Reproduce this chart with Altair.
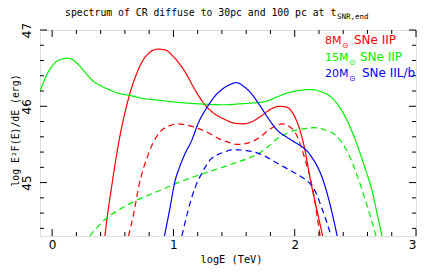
import altair as alt
import pandas as pd

# ---- data ----
red_solid_x = [0.435, 0.45, 0.49, 0.53, 0.57, 0.61, 0.645, 0.69, 0.74, 0.80, 0.87, 0.93, 1.00, 1.10, 1.18, 1.26, 1.34, 1.42, 1.50, 1.574, 1.65, 1.72, 1.80, 1.87, 1.93, 1.98, 2.03, 2.08, 2.13, 2.19, 2.23]
red_solid_y = [44.3, 44.5, 44.94, 45.35, 45.70, 45.98, 46.19, 46.40, 46.58, 46.70, 46.75, 46.74, 46.65, 46.44, 46.21, 46.02, 45.90, 45.83, 45.78, 45.77, 45.80, 45.87, 45.96, 46.00, 45.99, 45.92, 45.75, 45.46, 45.03, 44.59, 44.3]

red_dash_x = [0.63, 0.672, 0.713, 0.795, 0.877, 0.96, 1.04, 1.12, 1.205, 1.29, 1.37, 1.45, 1.53, 1.62, 1.70, 1.78, 1.85, 1.90, 1.96, 2.01, 2.08, 2.15, 2.20, 2.21]
red_dash_y = [44.3, 44.59, 44.94, 45.38, 45.64, 45.74, 45.77, 45.75, 45.71, 45.65, 45.58, 45.53, 45.50, 45.52, 45.58, 45.68, 45.75, 45.77, 45.73, 45.64, 45.33, 44.90, 44.40, 44.3]

green_solid_x = [-0.1, -0.025, 0.03, 0.08, 0.13, 0.18, 0.22, 0.28, 0.33, 0.40, 0.467, 0.55, 0.645, 0.76, 0.877, 1.05, 1.23, 1.42, 1.53, 1.62, 1.75, 1.85, 1.95, 2.05, 2.13, 2.22, 2.30, 2.37, 2.43, 2.49, 2.54, 2.59, 2.63, 2.68, 2.72]
green_solid_y = [46.2, 46.47, 46.58, 46.62, 46.63, 46.60, 46.54, 46.43, 46.34, 46.27, 46.22, 46.17, 46.14, 46.10, 46.08, 46.05, 46.03, 46.02, 46.03, 46.04, 46.06, 46.12, 46.18, 46.21, 46.22, 46.19, 46.12, 45.99, 45.82, 45.60, 45.38, 45.14, 44.94, 44.59, 44.3]

green_dash_x = [0.31, 0.453, 0.57, 0.686, 0.877, 1.04, 1.23, 1.42, 1.53, 1.62, 1.70, 1.78, 1.86, 1.94, 2.02, 2.10, 2.16, 2.25, 2.33, 2.39, 2.43, 2.48, 2.52, 2.56, 2.60, 2.64, 2.67]
green_dash_y = [44.3, 44.54, 44.66, 44.76, 44.89, 45.00, 45.11, 45.21, 45.27, 45.32, 45.38, 45.47, 45.58, 45.65, 45.69, 45.71, 45.72, 45.69, 45.63, 45.52, 45.42, 45.24, 45.07, 44.88, 44.68, 44.47, 44.3]

blue_solid_x = [0.926, 0.973, 1.01, 1.05, 1.096, 1.15, 1.205, 1.287, 1.34, 1.40, 1.46, 1.52, 1.58, 1.64, 1.70, 1.75, 1.80, 1.86, 1.93, 2.00, 2.06, 2.11, 2.15, 2.19, 2.23, 2.26, 2.31, 2.35]
blue_solid_y = [44.3, 44.68, 45.0, 45.2, 45.38, 45.55, 45.78, 46.01, 46.13, 46.22, 46.28, 46.31, 46.26, 46.17, 46.04, 45.92, 45.80, 45.68, 45.60, 45.53, 45.47, 45.40, 45.31, 45.20, 45.05, 44.90, 44.59, 44.3]

blue_dash_x = [1.07, 1.12, 1.18, 1.23, 1.31, 1.37, 1.42, 1.48, 1.53, 1.60, 1.67, 1.75, 1.86, 1.94, 2.02, 2.08, 2.13, 2.18, 2.22, 2.26, 2.30]
blue_dash_y = [44.3, 44.63, 44.94, 45.11, 45.31, 45.37, 45.40, 45.43, 45.43, 45.42, 45.40, 45.35, 45.25, 45.18, 45.11, 45.05, 44.98, 44.85, 44.68, 44.50, 44.3]

masses = ["8M", "15M", "20M"]
mass_colors = ["#ff0000", "#00ee00", "#0000ff"]
distances = ["30pc", "100pc"]
legend_mass = ["8M", "15M", "20M"]
legend_type = ["SNe IIP", "SNe IIP", "SNe IIL/b"]

x_major = [0, 1, 2, 3]
x_minor = [0.2, 0.4, 0.6, 0.8, 1.2, 1.4, 1.6, 1.8, 2.2, 2.4, 2.6, 2.8]
y_major = [45, 46, 47]
y_minor = [44.4, 44.6, 44.8, 45.2, 45.4, 45.6, 45.8, 46.2, 46.4, 46.6, 46.8]

# ---- build table ----
rows = []
series = [
    ("8M", "30pc", red_solid_x, red_solid_y),
    ("8M", "100pc", red_dash_x, red_dash_y),
    ("15M", "30pc", green_solid_x, green_solid_y),
    ("15M", "100pc", green_dash_x, green_dash_y),
    ("20M", "30pc", blue_solid_x, blue_solid_y),
    ("20M", "100pc", blue_dash_x, blue_dash_y),
]
for m, d, xs, ys in series:
    for xv, yv in zip(xs, ys):
        rows.append({"logE": xv, "val": yv, "mass": m, "dist": d, "key": m + d})
df = pd.DataFrame(rows)

W, H = 376, 206
FONT = "DejaVu Sans"
MONO = "DejaVu Sans Mono"
xscale = alt.Scale(domain=[-0.1, 3], nice=False, zero=False)
yscale = alt.Scale(domain=[44.3, 47], nice=False, zero=False)

xaxis = alt.Axis(values=x_major, grid=False, ticks=False, domain=False, labelFlush=True,
                 labelPadding=3, labelFontSize=12, labelFont=FONT, labelColor="black",
                 title="logE (TeV)", titleFont=MONO, titleFontSize=10.3, titleFontWeight="normal",
                 titleColor="black", titleX=W / 2 + 3, titleY=26, titleAlign="center",
                 titleBaseline="alphabetic")
yaxis = alt.Axis(values=y_major, grid=False, ticks=False, domain=False, labelAngle=-90,
                 labelPadding=7, labelFontSize=12, labelFont=FONT, labelColor="black",
                 labelAlign="center", labelBaseline="bottom",
                 title="log E²F(E)/dE (erg)", titleFont=MONO, titleFontSize=9.8,
                 titleFontWeight="normal", titleColor="black", titleAngle=-90,
                 titleX=-25, titleY=H / 2 - 3, titleAlign="center", titleBaseline="middle")

lines = alt.Chart(df).mark_line(clip=True, strokeWidth=1.2, interpolate="monotone").encode(
    x=alt.X("logE:Q", scale=xscale, axis=xaxis),
    y=alt.Y("val:Q", scale=yscale, axis=yaxis),
    color=alt.Color("mass:N", scale=alt.Scale(domain=masses, range=mass_colors), legend=None),
    strokeDash=alt.StrokeDash("dist:N", scale=alt.Scale(domain=distances, range=[[1, 0], [6, 4]]), legend=None),
    detail="key:N",
)

layers = [lines]

def xticks(vals, length):
    d = pd.DataFrame({"t": vals})
    bottom = alt.Chart(d).mark_rule(color="black", strokeWidth=1).encode(
        x=alt.X("t:Q", scale=xscale, axis=xaxis), y=alt.value(H), y2=alt.value(H - length))
    top = alt.Chart(d).mark_rule(color="black", strokeWidth=1).encode(
        x=alt.X("t:Q", scale=xscale, axis=xaxis), y=alt.value(0), y2=alt.value(length))
    return [bottom, top]

def yticks(vals, length):
    d = pd.DataFrame({"t": vals})
    left = alt.Chart(d).mark_rule(color="black", strokeWidth=1).encode(
        y=alt.Y("t:Q", scale=yscale, axis=yaxis), x=alt.value(0), x2=alt.value(length))
    right = alt.Chart(d).mark_rule(color="black", strokeWidth=1).encode(
        y=alt.Y("t:Q", scale=yscale, axis=yaxis), x=alt.value(W), x2=alt.value(W - length))
    return [left, right]

layers += xticks(x_major, 7) + xticks(x_minor, 4) + yticks(y_major, 7) + yticks(y_minor, 4)

def label(text, px, py, size, color="black", align="left", font=FONT):
    return alt.Chart(pd.DataFrame({"t": [text]})).mark_text(
        align=align, baseline="alphabetic", font=font, fontSize=size, color=color).encode(
        x=alt.value(px), y=alt.value(py), text="t:N")

# title with subscript
layers.append(label("spectrum of CR diffuse to 30pc and 100 pc at t", 25, -14.5, 9.8, font=MONO))
layers.append(label("SNR,end", 297, -11.5, 7.5, font=MONO))

# legend text
rows_y = [14, 31, 47]
sun_x = [302, 309, 309]
type_x = [314, 320, 322]
for i in range(3):
    c = mass_colors[i]
    layers.append(label(legend_mass[i], 285, rows_y[i], 11, c))
    layers.append(label("⊙", sun_x[i], rows_y[i] + 4, 8, c))
    layers.append(label(legend_type[i], type_x[i], rows_y[i], 12, c))

chart = alt.layer(*layers).properties(
    width=W, height=H,
    autosize=alt.AutoSizeParams(type="none"),
    padding={"left": 32, "top": 22, "right": 1, "bottom": 29},
).configure_view(stroke="black", strokeWidth=1).configure(background="white")

chart.save("out.html", embed_options={"renderer": "svg", "actions": False})
